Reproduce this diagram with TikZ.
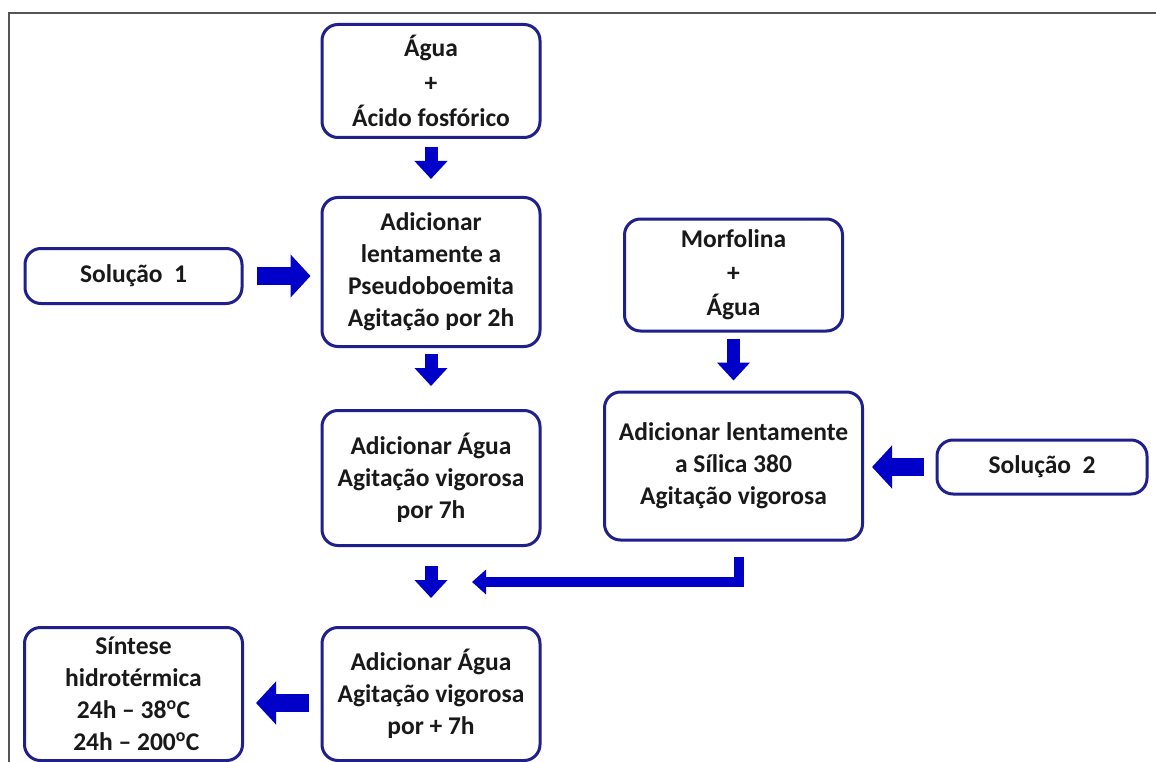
\documentclass[tikz,border=0pt]{standalone}
\usepackage{fontspec}
\setmainfont{Carlito}
\usetikzlibrary{arrows.meta}
\definecolor{boxblue}{RGB}{32,32,140}
\definecolor{arrblue}{RGB}{0,0,200}
\definecolor{txt}{RGB}{25,25,25}
\definecolor{frame}{RGB}{85,85,85}
\begin{document}
\begin{tikzpicture}[x=1pt,y=-1pt,
  box/.style={draw=boxblue, line width=3pt, rounded corners=16pt, fill=white,
    align=center, inner sep=0pt, text=txt,
    font=\fontsize{25.5}{32}\selectfont\bfseries},
  blockarr/.style={draw=arrblue, line width=18pt,
    -{Triangle[length=20pt,width=42pt]}},
  varr/.style={draw=arrblue, line width=13pt,
    -{Triangle[length=18pt,width=32pt]}},
  thinarr/.style={draw=arrblue, line width=10pt, line join=miter,
    -{Triangle[length=14pt,width=24pt]}}
]
\useasboundingbox (0,0) rectangle (1156,762);
\fill[white] (0,0) rectangle (1156,762);
\draw[frame, line width=2.5pt] (9,762) -- (9,13) -- (1156,13);

\node[box, minimum width=218pt, minimum height=113pt] (b1) at (431,81)
  {Água\\[3pt]+\\[3pt]Ácido fosfórico};
\node[box, minimum width=218pt, minimum height=149pt] (b2) at (431,272)
  {Adicionar\\lentamente a\\Pseudoboemita\\Agitação por 2h};
\node[box, minimum width=217pt, minimum height=55pt] (s1) at (133.5,276)
  {Solução\ \ 1};
\node[box, minimum width=218pt, minimum height=135pt] (b3) at (431,478)
  {Adicionar Água\\Agitação vigorosa\\por 7h};
\node[box, minimum width=218pt, minimum height=133pt] (b4) at (431,694)
  {Adicionar Água\\Agitação vigorosa\\por + 7h};
\node[box, minimum width=218pt, minimum height=133pt] (sint) at (133.5,694)
  {Síntese\\hidrotérmica\\24h -- 38\textsuperscript{o}C\\\ 24h -- 200\textsuperscript{o}C};
\node[box, minimum width=218pt, minimum height=112pt] (m) at (733.5,275)
  {Morfolina\\[2pt]+\\[2pt]Água};
\node[box, minimum width=258pt, minimum height=148pt] (b5) at (733.5,466)
  {Adicionar lentamente\\a Sílica 380\\Agitação vigorosa};
\node[box, minimum width=210pt, minimum height=54pt] (s2) at (1042,467)
  {Solução\ \ 2};

\draw[varr, shorten <=8pt, shorten >=17pt] (b1.south) -- (b2.north);
\draw[varr, shorten <=6pt, shorten >=23pt] (b2.south) -- (b3.north);
\draw[varr, shorten <=19pt, shorten >=28pt] (b3.south) -- (b4.north);
\draw[varr, shorten <=6pt, shorten >=10pt] (m.south) -- (b5.north);
\draw[blockarr, shorten <=13pt, shorten >=10pt] (s1.east) -- (s1.east -| b2.west);
\draw[blockarr, shorten <=12pt, shorten >=8pt] (s2.west) -- (s2.west -| b5.east);
\coordinate (sy) at (0,703);
\draw[blockarr, shorten <=12pt, shorten >=12pt] (b4.west |- sy) -- (sint.east |- sy);
\coordinate (elb) at (739,582);
\coordinate (mix) at (472,582);
\draw[thinarr, shorten <=15pt] (elb |- b5.south) -- (elb) -- (mix);
\end{tikzpicture}
\end{document}
